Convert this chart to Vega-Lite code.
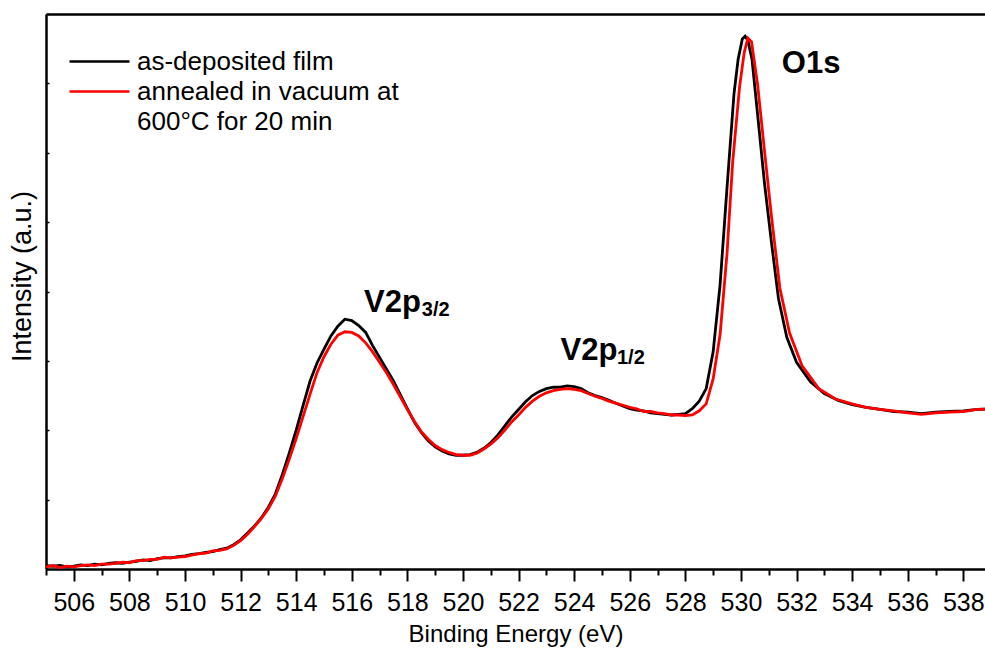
{
  "$schema": "https://vega.github.io/schema/vega-lite/v6.json",
  "width": 939,
  "height": 555,
  "autosize": {"type": "none"},
  "padding": {"left": 46, "top": 14, "right": 0, "bottom": 81},
  "background": "white",
  "config": {
    "font": "Liberation Sans",
    "view": {"stroke": null},
    "axis": {
      "grid": false,
      "domainColor": "black",
      "domainWidth": 2.5,
      "tickColor": "black",
      "tickWidth": 2,
      "labelColor": "black",
      "titleColor": "black",
      "titleFontWeight": "normal"
    }
  },
  "datasets": {
    "asDeposited": [
      {"energy": 505.00, "intensity": 0.05}, {"energy": 505.25, "intensity": 0.04}, {"energy": 505.50, "intensity": 0.05}, {"energy": 505.75, "intensity": 0.03},
      {"energy": 506.00, "intensity": 0.04}, {"energy": 506.25, "intensity": 0.06}, {"energy": 506.50, "intensity": 0.05}, {"energy": 506.75, "intensity": 0.07},
      {"energy": 507.00, "intensity": 0.06}, {"energy": 507.25, "intensity": 0.08}, {"energy": 507.50, "intensity": 0.09}, {"energy": 507.75, "intensity": 0.08},
      {"energy": 508.00, "intensity": 0.10}, {"energy": 508.25, "intensity": 0.11}, {"energy": 508.50, "intensity": 0.13}, {"energy": 508.75, "intensity": 0.12},
      {"energy": 509.00, "intensity": 0.15}, {"energy": 509.25, "intensity": 0.16}, {"energy": 509.50, "intensity": 0.16}, {"energy": 509.75, "intensity": 0.18},
      {"energy": 510.00, "intensity": 0.19}, {"energy": 510.25, "intensity": 0.21}, {"energy": 510.50, "intensity": 0.22}, {"energy": 510.75, "intensity": 0.24},
      {"energy": 511.00, "intensity": 0.25}, {"energy": 511.25, "intensity": 0.28}, {"energy": 511.50, "intensity": 0.30}, {"energy": 511.75, "intensity": 0.35},
      {"energy": 512.00, "intensity": 0.42}, {"energy": 512.25, "intensity": 0.52}, {"energy": 512.50, "intensity": 0.62}, {"energy": 512.75, "intensity": 0.74},
      {"energy": 513.00, "intensity": 0.89}, {"energy": 513.25, "intensity": 1.08}, {"energy": 513.50, "intensity": 1.36}, {"energy": 513.75, "intensity": 1.67},
      {"energy": 514.00, "intensity": 2.00}, {"energy": 514.25, "intensity": 2.36}, {"energy": 514.50, "intensity": 2.71}, {"energy": 514.75, "intensity": 2.97},
      {"energy": 515.00, "intensity": 3.17}, {"energy": 515.25, "intensity": 3.36}, {"energy": 515.50, "intensity": 3.50}, {"energy": 515.75, "intensity": 3.60},
      {"energy": 516.00, "intensity": 3.58}, {"energy": 516.25, "intensity": 3.51}, {"energy": 516.50, "intensity": 3.41}, {"energy": 516.75, "intensity": 3.22},
      {"energy": 517.00, "intensity": 3.05}, {"energy": 517.25, "intensity": 2.88}, {"energy": 517.50, "intensity": 2.71}, {"energy": 517.75, "intensity": 2.51},
      {"energy": 518.00, "intensity": 2.31}, {"energy": 518.25, "intensity": 2.12}, {"energy": 518.50, "intensity": 1.97}, {"energy": 518.75, "intensity": 1.85},
      {"energy": 519.00, "intensity": 1.76}, {"energy": 519.25, "intensity": 1.70}, {"energy": 519.50, "intensity": 1.66}, {"energy": 519.75, "intensity": 1.64},
      {"energy": 520.00, "intensity": 1.64}, {"energy": 520.25, "intensity": 1.65}, {"energy": 520.50, "intensity": 1.68}, {"energy": 520.75, "intensity": 1.74},
      {"energy": 521.00, "intensity": 1.82}, {"energy": 521.25, "intensity": 1.93}, {"energy": 521.50, "intensity": 2.06}, {"energy": 521.75, "intensity": 2.19},
      {"energy": 522.00, "intensity": 2.30}, {"energy": 522.25, "intensity": 2.41}, {"energy": 522.50, "intensity": 2.50}, {"energy": 522.75, "intensity": 2.56},
      {"energy": 523.00, "intensity": 2.60}, {"energy": 523.25, "intensity": 2.62}, {"energy": 523.50, "intensity": 2.62}, {"energy": 523.75, "intensity": 2.64},
      {"energy": 524.00, "intensity": 2.63}, {"energy": 524.25, "intensity": 2.60}, {"energy": 524.50, "intensity": 2.54}, {"energy": 524.75, "intensity": 2.50},
      {"energy": 525.00, "intensity": 2.47}, {"energy": 525.25, "intensity": 2.43}, {"energy": 525.50, "intensity": 2.39}, {"energy": 525.75, "intensity": 2.35},
      {"energy": 526.00, "intensity": 2.31}, {"energy": 526.25, "intensity": 2.29}, {"energy": 526.50, "intensity": 2.28}, {"energy": 526.75, "intensity": 2.25},
      {"energy": 527.00, "intensity": 2.24}, {"energy": 527.25, "intensity": 2.23}, {"energy": 527.50, "intensity": 2.22}, {"energy": 527.75, "intensity": 2.23},
      {"energy": 528.00, "intensity": 2.24}, {"energy": 528.25, "intensity": 2.31}, {"energy": 528.50, "intensity": 2.42}, {"energy": 528.75, "intensity": 2.60},
      {"energy": 529.00, "intensity": 3.13}, {"energy": 529.25, "intensity": 4.10}, {"energy": 529.50, "intensity": 5.50}, {"energy": 529.75, "intensity": 6.85},
      {"energy": 529.90, "intensity": 7.35}, {"energy": 530.05, "intensity": 7.64}, {"energy": 530.15, "intensity": 7.68}, {"energy": 530.25, "intensity": 7.62},
      {"energy": 530.40, "intensity": 7.34}, {"energy": 530.60, "intensity": 6.55}, {"energy": 530.85, "intensity": 5.55}, {"energy": 531.10, "intensity": 4.70},
      {"energy": 531.35, "intensity": 3.90}, {"energy": 531.65, "intensity": 3.34}, {"energy": 532.00, "intensity": 2.98}, {"energy": 532.50, "intensity": 2.70},
      {"energy": 533.00, "intensity": 2.53}, {"energy": 533.50, "intensity": 2.43}, {"energy": 534.00, "intensity": 2.37}, {"energy": 534.50, "intensity": 2.33},
      {"energy": 535.00, "intensity": 2.30}, {"energy": 535.50, "intensity": 2.27}, {"energy": 536.00, "intensity": 2.26}, {"energy": 536.50, "intensity": 2.24},
      {"energy": 537.00, "intensity": 2.26}, {"energy": 537.50, "intensity": 2.27}, {"energy": 538.00, "intensity": 2.28}, {"energy": 538.50, "intensity": 2.30},
      {"energy": 539.00, "intensity": 2.31}
    ],
    "annealed": [
      {"energy": 505.00, "intensity": 0.03}, {"energy": 505.25, "intensity": 0.05}, {"energy": 505.50, "intensity": 0.02}, {"energy": 505.75, "intensity": 0.04},
      {"energy": 506.00, "intensity": 0.03}, {"energy": 506.25, "intensity": 0.05}, {"energy": 506.50, "intensity": 0.06}, {"energy": 506.75, "intensity": 0.05},
      {"energy": 507.00, "intensity": 0.07}, {"energy": 507.25, "intensity": 0.07}, {"energy": 507.50, "intensity": 0.08}, {"energy": 507.75, "intensity": 0.10},
      {"energy": 508.00, "intensity": 0.09}, {"energy": 508.25, "intensity": 0.12}, {"energy": 508.50, "intensity": 0.12}, {"energy": 508.75, "intensity": 0.14},
      {"energy": 509.00, "intensity": 0.14}, {"energy": 509.25, "intensity": 0.17}, {"energy": 509.50, "intensity": 0.16}, {"energy": 509.75, "intensity": 0.17},
      {"energy": 510.00, "intensity": 0.18}, {"energy": 510.25, "intensity": 0.20}, {"energy": 510.50, "intensity": 0.22}, {"energy": 510.75, "intensity": 0.23},
      {"energy": 511.00, "intensity": 0.26}, {"energy": 511.25, "intensity": 0.27}, {"energy": 511.50, "intensity": 0.29}, {"energy": 511.75, "intensity": 0.34},
      {"energy": 512.00, "intensity": 0.41}, {"energy": 512.25, "intensity": 0.50}, {"energy": 512.50, "intensity": 0.61}, {"energy": 512.75, "intensity": 0.73},
      {"energy": 513.00, "intensity": 0.87}, {"energy": 513.25, "intensity": 1.05}, {"energy": 513.50, "intensity": 1.30}, {"energy": 513.75, "intensity": 1.58},
      {"energy": 514.00, "intensity": 1.88}, {"energy": 514.25, "intensity": 2.20}, {"energy": 514.50, "intensity": 2.52}, {"energy": 514.75, "intensity": 2.83},
      {"energy": 515.00, "intensity": 3.06}, {"energy": 515.25, "intensity": 3.24}, {"energy": 515.50, "intensity": 3.37}, {"energy": 515.75, "intensity": 3.42},
      {"energy": 516.00, "intensity": 3.41}, {"energy": 516.25, "intensity": 3.36}, {"energy": 516.50, "intensity": 3.26}, {"energy": 516.75, "intensity": 3.13},
      {"energy": 517.00, "intensity": 2.98}, {"energy": 517.25, "intensity": 2.83}, {"energy": 517.50, "intensity": 2.66}, {"energy": 517.75, "intensity": 2.48},
      {"energy": 518.00, "intensity": 2.30}, {"energy": 518.25, "intensity": 2.13}, {"energy": 518.50, "intensity": 1.98}, {"energy": 518.75, "intensity": 1.87},
      {"energy": 519.00, "intensity": 1.78}, {"energy": 519.25, "intensity": 1.72}, {"energy": 519.50, "intensity": 1.68}, {"energy": 519.75, "intensity": 1.65},
      {"energy": 520.00, "intensity": 1.64}, {"energy": 520.25, "intensity": 1.64}, {"energy": 520.50, "intensity": 1.67}, {"energy": 520.75, "intensity": 1.73},
      {"energy": 521.00, "intensity": 1.80}, {"energy": 521.25, "intensity": 1.89}, {"energy": 521.50, "intensity": 2.00}, {"energy": 521.75, "intensity": 2.12},
      {"energy": 522.00, "intensity": 2.22}, {"energy": 522.25, "intensity": 2.33}, {"energy": 522.50, "intensity": 2.42}, {"energy": 522.75, "intensity": 2.49},
      {"energy": 523.00, "intensity": 2.54}, {"energy": 523.25, "intensity": 2.57}, {"energy": 523.50, "intensity": 2.59}, {"energy": 523.75, "intensity": 2.60},
      {"energy": 524.00, "intensity": 2.59}, {"energy": 524.25, "intensity": 2.57}, {"energy": 524.50, "intensity": 2.53}, {"energy": 524.75, "intensity": 2.49},
      {"energy": 525.00, "intensity": 2.46}, {"energy": 525.25, "intensity": 2.42}, {"energy": 525.50, "intensity": 2.39}, {"energy": 525.75, "intensity": 2.36},
      {"energy": 526.00, "intensity": 2.33}, {"energy": 526.25, "intensity": 2.31}, {"energy": 526.50, "intensity": 2.27}, {"energy": 526.75, "intensity": 2.27},
      {"energy": 527.00, "intensity": 2.25}, {"energy": 527.25, "intensity": 2.24}, {"energy": 527.50, "intensity": 2.22}, {"energy": 527.75, "intensity": 2.22},
      {"energy": 528.00, "intensity": 2.21}, {"energy": 528.25, "intensity": 2.22}, {"energy": 528.50, "intensity": 2.28}, {"energy": 528.75, "intensity": 2.38},
      {"energy": 529.00, "intensity": 2.74}, {"energy": 529.25, "intensity": 3.38}, {"energy": 529.50, "intensity": 4.55}, {"energy": 529.70, "intensity": 5.85},
      {"energy": 529.95, "intensity": 6.95}, {"energy": 530.12, "intensity": 7.45}, {"energy": 530.25, "intensity": 7.65}, {"energy": 530.38, "intensity": 7.60},
      {"energy": 530.60, "intensity": 6.98}, {"energy": 530.85, "intensity": 6.02}, {"energy": 531.10, "intensity": 5.08}, {"energy": 531.40, "intensity": 4.05},
      {"energy": 531.75, "intensity": 3.40}, {"energy": 532.20, "intensity": 2.93}, {"energy": 532.80, "intensity": 2.60}, {"energy": 533.40, "intensity": 2.45},
      {"energy": 534.00, "intensity": 2.38}, {"energy": 534.50, "intensity": 2.33}, {"energy": 535.00, "intensity": 2.30}, {"energy": 535.50, "intensity": 2.28},
      {"energy": 536.00, "intensity": 2.25}, {"energy": 536.50, "intensity": 2.23}, {"energy": 537.00, "intensity": 2.25}, {"energy": 537.50, "intensity": 2.26},
      {"energy": 538.00, "intensity": 2.27}, {"energy": 538.50, "intensity": 2.30}, {"energy": 539.00, "intensity": 2.31}
    ],
    "peakLabels": [
      {"energy": 516.44, "intensity": 3.71, "label": "V2p"},
      {"energy": 523.51, "intensity": 3.01, "label": "V2p"},
      {"energy": 531.47, "intensity": 7.15, "label": "O1s"}
    ],
    "peakSubscripts": [
      {"energy": 518.52, "intensity": 3.65, "label": "3/2"},
      {"energy": 525.54, "intensity": 2.96, "label": "1/2"}
    ]
  },
  "resolve": {"axis": {"x": "independent", "y": "independent"}},
  "layer": [
    {
      "data": {"name": "asDeposited"},
      "mark": {"type": "line", "strokeWidth": 2.8, "clip": true},
      "encoding": {
        "x": {
          "field": "energy",
          "type": "quantitative",
          "scale": {"domain": [505, 538.78], "nice": false, "zero": false},
          "axis": {
            "values": [506, 508, 510, 512, 514, 516, 518, 520, 522, 524, 526, 528, 530, 532, 534, 536, 538],
            "tickSize": 12,
            "labelFontSize": 25,
            "labelPadding": 9,
            "labelFlush": false,
            "labelOverlap": false,
            "title": "Binding Energy (eV)",
            "titleFontSize": 24,
            "titlePadding": 7
          }
        },
        "y": {
          "field": "intensity",
          "type": "quantitative",
          "scale": {"domain": [0, 8], "nice": false, "zero": false},
          "axis": {
            "values": [0, 1, 2, 3, 4, 5, 6, 7, 8],
            "labels": false,
            "tickSize": -3,
            "tickWidth": 1.5,
            "title": "Intensity (a.u.)",
            "titleFontSize": 27,
            "titlePadding": 9,
            "titleY": 262
          }
        },
        "color": {
          "datum": "as-deposited film",
          "type": "nominal",
          "scale": {
            "domain": ["as-deposited film", "annealed in vacuum at 600°C for 20 min", "600°C for 20 min"],
            "range": ["black", "red", "transparent"]
          },
          "legend": {
            "title": null,
            "orient": "none",
            "legendX": 37,
            "legendY": 31,
            "padding": 0,
            "rowPadding": 0,
            "symbolType": "M-2,0H2",
            "symbolSize": 900,
            "symbolStrokeWidth": 2.5,
            "labelFontSize": 26,
            "labelColor": "black",
            "labelOffset": 21,
            "labelLimit": 600,
            "labelExpr": "datum.label == 'annealed in vacuum at 600°C for 20 min' ? 'annealed in vacuum at' : datum.label"
          }
        }
      }
    },
    {
      "data": {"name": "annealed"},
      "mark": {"type": "line", "strokeWidth": 2.8, "clip": true},
      "encoding": {
        "x": {"field": "energy", "type": "quantitative", "scale": {"domain": [505, 538.78], "nice": false, "zero": false}, "axis": null},
        "y": {"field": "intensity", "type": "quantitative", "scale": {"domain": [0, 8], "nice": false, "zero": false}, "axis": null},
        "color": {"datum": "annealed in vacuum at 600°C for 20 min", "type": "nominal"}
      }
    },
    {
      "data": {"name": "peakLabels"},
      "mark": {"type": "text", "align": "left", "baseline": "alphabetic", "fontSize": 31, "fontWeight": "bold", "color": "black"},
      "encoding": {
        "x": {
          "field": "energy",
          "type": "quantitative",
          "scale": {"domain": [505, 538.78], "nice": false, "zero": false},
          "axis": {"orient": "top", "ticks": false, "labels": false, "title": null, "domain": true}
        },
        "y": {"field": "intensity", "type": "quantitative", "scale": {"domain": [0, 8], "nice": false, "zero": false}, "axis": null},
        "text": {"field": "label"}
      }
    },
    {
      "data": {"name": "peakSubscripts"},
      "mark": {"type": "text", "align": "left", "baseline": "alphabetic", "fontSize": 20, "fontWeight": "bold", "color": "black"},
      "encoding": {
        "x": {
          "field": "energy",
          "type": "quantitative",
          "scale": {"domain": [505, 538.78], "nice": false, "zero": false},
          "axis": {
            "orient": "bottom",
            "values": [505, 507, 509, 511, 513, 515, 517, 519, 521, 523, 525, 527, 529, 531, 533, 535, 537],
            "tickSize": 6,
            "labels": false,
            "domain": false,
            "title": null
          }
        },
        "y": {"field": "intensity", "type": "quantitative", "scale": {"domain": [0, 8], "nice": false, "zero": false}, "axis": null},
        "text": {"field": "label"}
      }
    }
  ]
}
